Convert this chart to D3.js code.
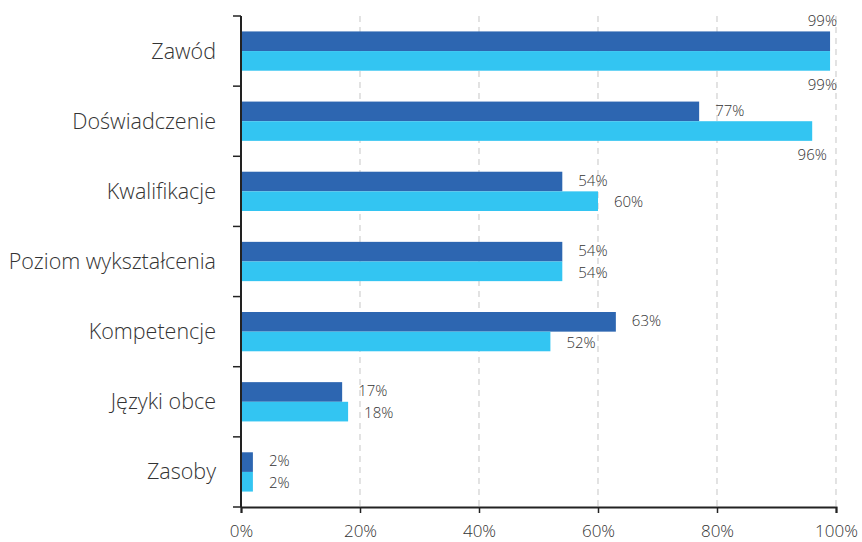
<!DOCTYPE html>
<html>
<head>
<meta charset="utf-8">
<script src="https://cdn.jsdelivr.net/npm/d3@7"></script>
<style>
  html, body { margin: 0; padding: 0; background: #fff; }
  svg text { font-family: "Open Sans", "Noto Sans", sans-serif; font-weight: 300; }
</style>
</head>
<body>
<svg id="chart" width="862" height="542"></svg>
<script>
// Categories, top to bottom
const categories = ["Zawód", "Doświadczenie", "Kwalifikacje", "Poziom wykształcenia", "Kompetencje", "Języki obce", "Zasoby"];
// Two series (percent)
const seriesA = [99, 77, 54, 54, 63, 17, 2];
const seriesB = [99, 96, 60, 54, 52, 18, 2];
const xTicks = [0, 20, 40, 60, 80, 100];

const colors = ["#2D66B1", "#33C5F2"];

const svg = d3.select("#chart");
const margin = { left: 241, right: 26, top: 16, bottom: 35 };
const W = 862, H = 542;

const x = d3.scaleLinear().domain([0, 100]).range([margin.left, W - margin.right]);
const y = d3.scaleBand().domain(categories).range([margin.top, H - margin.bottom]).paddingInner(0).paddingOuter(0);
const inner = d3.scaleBand().domain([0, 1])
  .range([y.bandwidth() * 0.22, y.bandwidth() * 0.78]).paddingInner(0);

// Dashed vertical gridlines
svg.append("g")
  .selectAll("line")
  .data(xTicks.filter(t => t > 0))
  .join("line")
  .attr("x1", d => x(d)).attr("x2", d => x(d))
  .attr("y1", margin.top).attr("y2", H - margin.bottom)
  .attr("stroke", "#d0d0d0")
  .attr("stroke-width", 1.2)
  .attr("stroke-dasharray", "6,5");

// Bars
const data = categories.map((c, i) => ({ cat: c, vals: [seriesA[i], seriesB[i]] }));
const groups = svg.append("g").selectAll("g")
  .data(data).join("g")
  .attr("transform", d => `translate(0,${y(d.cat)})`);

groups.selectAll("rect")
  .data(d => d.vals.map((v, k) => ({ v, k })))
  .join("rect")
  .attr("x", x(0))
  .attr("y", d => inner(d.k))
  .attr("width", d => x(d.v) - x(0))
  .attr("height", inner.bandwidth())
  .attr("fill", d => colors[d.k]);

// Value labels
const rightEdge = W - margin.right + 1;
groups.selectAll("text.val")
  .data(d => d.vals.map((v, k) => ({ v, k })))
  .join("text")
  .attr("class", "val")
  .attr("font-size", 15)
  .attr("fill", "#333")
  .each(function(d) {
    const t = d3.select(this).text(d.v + "%");
    // nudge the pair apart a little so the two labels do not collide
    const cy = inner(d.k) + inner.bandwidth() / 2 + (d.k === 0 ? -1 : 1);
    if (d.v > 90) {
      // no room at bar end: place above / below the bar
      const w = this.getComputedTextLength();
      let cx = x(d.v);
      if (cx + w / 2 > rightEdge) cx = rightEdge - w / 2;
      t.attr("text-anchor", "middle").attr("x", cx)
       .attr("y", d.k === 0 ? inner(0) - 5 : inner(1) + inner.bandwidth() + 19);
    } else {
      t.attr("x", x(d.v) + 16).attr("y", cy).attr("dy", "0.35em");
    }
  });

// Left axis
const yAxisG = svg.append("g");
yAxisG.append("line")
  .attr("x1", x(0)).attr("x2", x(0))
  .attr("y1", margin.top).attr("y2", H - margin.bottom)
  .attr("stroke", "#222").attr("stroke-width", 2);
const bounds = categories.map(c => y(c)).concat([H - margin.bottom]);
yAxisG.selectAll("line.tick")
  .data(bounds).join("line")
  .attr("class", "tick")
  .attr("x1", x(0) - 8).attr("x2", x(0))
  .attr("y1", d => d).attr("y2", d => d)
  .attr("stroke", "#222").attr("stroke-width", 1.5);
yAxisG.selectAll("text")
  .data(categories).join("text")
  .attr("x", 216)
  .attr("y", d => y(d) + y.bandwidth() / 2)
  .attr("dy", "0.35em")
  .attr("text-anchor", "end")
  .attr("font-size", 21.5)
  .attr("fill", "#333")
  .text(d => d);

// Bottom axis
const xAxis = d3.axisBottom(x).tickValues(xTicks).tickFormat(d => d + "%").tickSize(6).tickPadding(12);
const xg = svg.append("g")
  .attr("transform", `translate(0,${H - margin.bottom})`)
  .call(xAxis);
xg.select(".domain").attr("stroke", "#222").attr("stroke-width", 2);
xg.selectAll(".tick line").attr("stroke", "#222").attr("stroke-width", 1.5);
xg.selectAll(".tick text")
  .attr("font-size", 17)
  .attr("fill", "#333")
  .attr("font-family", "'Open Sans', 'Noto Sans', sans-serif")
  .attr("font-weight", 300);
</script>
</body>
</html>
